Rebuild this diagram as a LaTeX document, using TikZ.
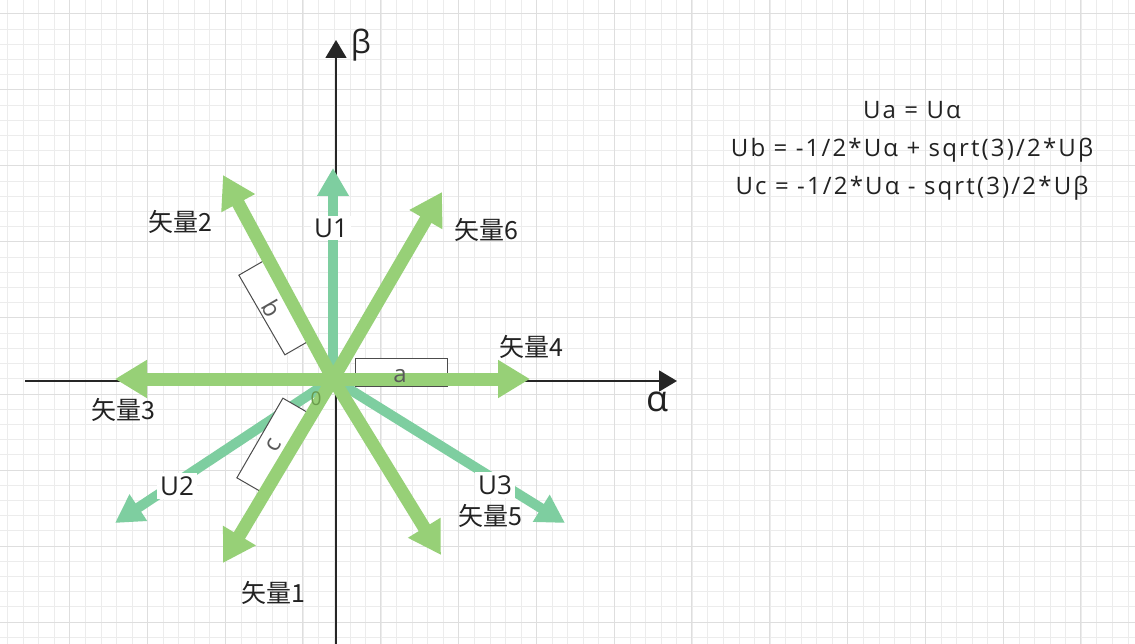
\documentclass[tikz,border=0pt]{standalone}
\usepackage{fontspec}
\setmainfont{Open Sans}
\newfontfamily\cjk{Noto Sans CJK SC}
\newfontfamily\eqfont[LetterSpace=9]{Open Sans}
\usetikzlibrary{arrows.meta}
\definecolor{vgreen}{RGB}{151,208,119}
\definecolor{ugreen}{RGB}{126,206,160}
\definecolor{minorgrid}{RGB}{236,236,236}
\definecolor{majorgrid}{RGB}{222,222,222}
\definecolor{txt}{RGB}{34,34,34}
\definecolor{zerocol}{RGB}{105,155,75}
\begin{document}
\begin{tikzpicture}[x=1pt,y=-1pt,
  vec/.style={draw=vgreen, line width=13pt, -{Triangle[length=32pt,width=36pt]}, vgreen},
  uvec/.style={draw=ugreen, line width=10pt, -{Triangle[length=28pt,width=30pt]}, ugreen},
  axisline/.style={draw=black!85, line width=1.5pt, -{Triangle[length=18pt,width=21pt]}},
  lbl/.style={font=\cjk\fontsize{25}{28}\selectfont, text=txt, inner sep=1pt},
  ulbl/.style={font=\fontsize{26}{28}\selectfont, text=txt, fill=white, inner sep=3pt},
  seg/.style={draw=black!70, line width=1pt, fill=white, minimum width=92pt, minimum height=28pt, inner sep=0pt},
  seglbl/.style={font=\fontsize{24}{26}\selectfont, text=black!65, inner sep=0pt},
  eq/.style={font=\eqfont\fontsize{24}{28}\selectfont, text=txt, inner sep=0pt}
]
\useasboundingbox (0,0) rectangle (1135,644);
\fill[white] (0,0) rectangle (1135,644);
% grid
\begin{scope}
\clip (0,0) rectangle (1135,644);
\foreach \i in {0,...,73} {
  \pgfmathsetmacro\gx{7.7+15.56*\i}
  \draw[minorgrid, line width=1pt] (\gx,0) -- (\gx,644);
}
\foreach \i in {0,...,43} {
  \pgfmathsetmacro\gy{-1.2+15.2*\i}
  \draw[minorgrid, line width=1pt] (0,\gy) -- (1135,\gy);
}
\foreach \i in {0,...,15} {
  \pgfmathsetmacro\gx{-8.3+77.8*\i}
  \draw[majorgrid, line width=1pt] (\gx,0) -- (\gx,644);
}
\foreach \i in {0,...,8} {
  \pgfmathsetmacro\gy{14+76*\i}
  \draw[majorgrid, line width=1pt] (0,\gy) -- (1135,\gy);
}
\end{scope}
% coordinates
\coordinate (O) at (333,379);
\coordinate (xs) at (25,381);
\coordinate (xe) at (677,381);
\coordinate (ys) at (336,644);
\coordinate (ye) at (336,40);
\coordinate (v1) at (223,563);
\coordinate (v2) at (223,175);
\coordinate (v3) at (115,379);
\coordinate (v4) at (530,379);
\coordinate (v5) at (441,555);
\coordinate (v6) at (442,192);
\coordinate (u1) at (333,168);
\coordinate (u2) at (115,523);
\coordinate (u3) at (565,523);
% axes
\draw[axisline] (xs) -- (xe);
\draw[axisline] (ys) -- (ye);
\node[font=\fontsize{32}{34}\selectfont, text=txt] (beta) at (361,45) {β};
\node[font=\fontsize{36}{38}\selectfont, text=txt] (alpha) at (657,402) {α};
% U vectors
\draw[uvec] (O) -- (u1);
\draw[uvec] (O) -- (u2);
\draw[uvec] (O) -- (u3);
% boxes
\node[seg] (boxa) at (401,372) {};
\node[seg, rotate=-60] (boxb) at (274,308) {};
\node[seg, rotate=60] (boxc) at (272,445) {};
% vectors
\draw[vec] (O) -- (v1);
\draw[vec] (O) -- (v2);
\draw[vec] (O) -- (v3);
\draw[vec] (O) -- (v4);
\draw[vec] (O) -- (v5);
\draw[vec] (O) -- (v6);
% box labels
\node[seglbl] (la) at (400,376) {a};
\node[seglbl, rotate=-60] (lb) at (272,308) {b};
\node[seglbl, rotate=60] (lc) at (274,445) {c};
\node[font=\fontsize{19}{20}\selectfont, text=zerocol, inner sep=0pt] (zero) at (316,399) {0};
% labels
\node[lbl] (n2) at (180,222) {矢量2};
\node[lbl] (n6) at (486,230) {矢量6};
\node[lbl] (n4) at (531,347) {矢量4};
\node[lbl] (n3) at (123,410) {矢量3};
\node[lbl] (n5) at (490,516) {矢量5};
\node[lbl] (n1) at (273,593) {矢量1};
\node[ulbl] (U1) at (331,228) {U1};
\node[ulbl] (U2) at (177,486) {U2};
\node[ulbl] (U3) at (495,485) {U3};
% equations
\node[eq] (e1) at (912,110) {Ua = Uα};
\node[eq] (e2) at (912,150) {Ub = -1/2*Uα + sqrt(3)/2*Uβ};
\node[eq] (e3) at (912,188) {Uc = -1/2*Uα - sqrt(3)/2*Uβ};
\end{tikzpicture}
\end{document}
